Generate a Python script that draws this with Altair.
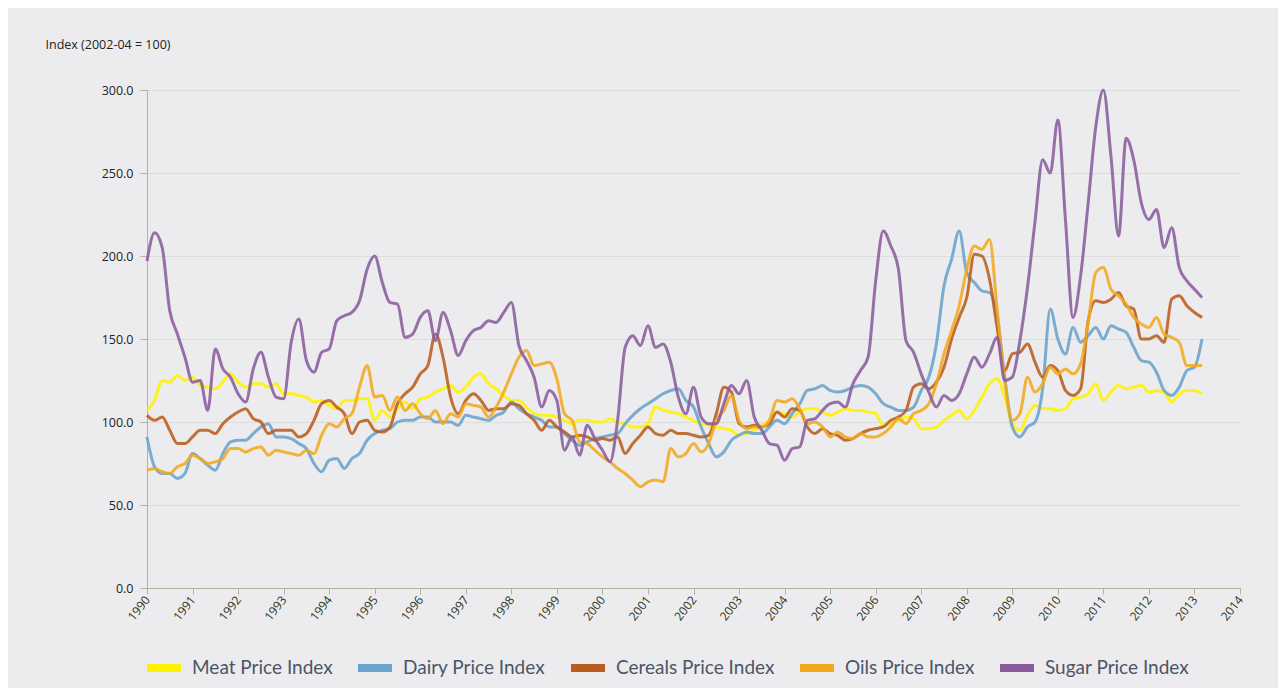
import altair as alt
import pandas as pd

series_names = ["Meat Price Index", "Dairy Price Index", "Cereals Price Index",
                "Oils Price Index", "Sugar Price Index"]
series_colors = ["#FFF200", "#6AA3CC", "#B95D1E", "#F2A81E", "#8A5C9E"]

# months since Jan 1990, every second month, up to Mar 2013
months = list(range(0, 279, 2))

meat = [107, 113, 125, 124, 128, 125, 127, 122, 121, 120, 124, 129,
        124, 121, 123, 123, 121, 123, 117, 117, 116, 115, 112, 113,
        110, 108, 113, 113, 114, 114, 101, 107, 103, 108, 112, 108,
        114, 115, 118, 120, 122, 118, 121, 127, 129, 123, 120, 116,
        113, 113, 109, 105, 104, 104, 103, 101, 99, 101, 101, 100,
        100, 102, 100, 99, 97, 97, 99, 109, 107, 106, 105, 103,
        101, 99, 98, 97, 96, 95, 92, 93, 95, 98, 101, 106,
        105, 103, 106, 108, 108, 106, 104, 106, 108, 107, 107, 106,
        105, 98, 99, 101, 103, 102, 96, 96, 97, 101, 104, 107,
        102, 107, 115, 123, 126, 115, 99, 95, 104, 110, 108, 108,
        107, 108, 114, 115, 117, 123, 113, 118, 122, 120, 121, 122,
        118, 119, 118, 112, 117, 119, 119, 117]

dairy = [91, 73, 69, 69, 66, 69, 81, 78, 74, 71, 81, 88,
         89, 89, 93, 97, 99, 91, 91, 90, 87, 84, 75, 70,
         77, 78, 72, 78, 81, 89, 93, 95, 96, 100, 101, 101,
         103, 103, 100, 100, 100, 98, 104, 103, 102, 101, 104, 106,
         112, 108, 105, 103, 101, 97, 97, 93, 89, 86, 88, 90,
         91, 92, 93, 99, 104, 108, 111, 114, 117, 119, 120, 113,
         109, 97, 87, 79, 82, 89, 92, 94, 93, 93, 97, 101,
         99, 105, 111, 119, 120, 122, 119, 118, 119, 121, 122, 121,
         117, 111, 109, 107, 107, 109, 119, 127, 147, 182, 198, 215,
         190, 184, 179, 178, 164, 127, 97, 91, 97, 100, 120, 168,
         150, 141, 157, 148, 152, 157, 150, 158, 156, 154, 145, 137,
         136, 130, 119, 116, 121, 131, 133, 150]

cereals = [104, 101, 103, 95, 87, 87, 91, 95, 95, 93, 99, 103,
           106, 108, 102, 100, 93, 95, 95, 95, 91, 93, 101, 111,
           113, 109, 105, 93, 100, 101, 95, 94, 97, 111, 117, 121,
           129, 134, 153, 139, 115, 105, 113, 117, 113, 107, 108, 108,
           111, 110, 105, 101, 95, 101, 97, 94, 91, 92, 91, 89,
           90, 89, 91, 81, 87, 92, 97, 93, 92, 95, 93, 93,
           92, 91, 92, 105, 121, 118, 99, 97, 98, 97, 99, 106,
           103, 108, 107, 97, 93, 96, 93, 92, 89, 90, 93, 95,
           96, 97, 101, 103, 107, 121, 123, 120, 124, 133, 150, 163,
           175, 201, 200, 186, 157, 131, 141, 142, 147, 136, 127, 134,
           131, 119, 116, 120, 161, 173, 172, 174, 178, 170, 168, 150,
           150, 152, 148, 174, 176, 170, 166, 163]

oils = [71, 72, 70, 69, 73, 75, 80, 78, 75, 76, 78, 84,
        84, 82, 84, 85, 80, 83, 82, 81, 80, 83, 81, 92,
        99, 97, 102, 105, 121, 134, 115, 116, 107, 115, 107, 111,
        105, 102, 107, 99, 105, 103, 111, 110, 109, 103, 109, 118,
        129, 139, 143, 134, 135, 136, 126, 105, 101, 88, 87, 83,
        79, 76, 72, 69, 65, 61, 64, 65, 64, 84, 79, 81,
        87, 82, 87, 101, 107, 116, 101, 96, 97, 97, 101, 113,
        112, 114, 108, 99, 100, 97, 91, 94, 91, 90, 93, 91,
        91, 93, 97, 102, 99, 105, 107, 111, 123, 141, 155, 170,
        192, 206, 204, 210, 168, 125, 101, 105, 127, 118, 123, 133,
        129, 132, 129, 135, 160, 190, 193, 180, 176, 171, 163, 159,
        157, 163, 153, 151, 148, 134, 134, 134]

sugar = [197, 214, 205, 167, 153, 139, 124, 125, 107, 144, 132, 127,
         117, 112, 132, 142, 127, 115, 114, 148, 162, 137, 130, 142,
         144, 161, 164, 166, 173, 192, 200, 184, 172, 171, 151, 153,
         163, 167, 149, 166, 155, 140, 149, 155, 157, 161, 160, 166,
         172, 146, 137, 127, 109, 119, 113, 83, 91, 80, 98, 90,
         83, 76, 101, 145, 152, 146, 158, 145, 147, 136, 115, 105,
         121, 103, 99, 99, 111, 122, 117, 125, 103, 95, 87, 86,
         77, 84, 85, 101, 102, 107, 111, 112, 109, 123, 131, 139,
         185, 215, 206, 192, 149, 142, 129, 118, 109, 116, 113, 117,
         129, 139, 133, 141, 151, 125, 127, 149, 181, 221, 258, 250,
         282, 222, 163, 188, 232, 278, 300, 260, 212, 271, 258, 232,
         222, 228, 205, 217, 193, 185, 180, 175]

year_ticks = list(range(1990, 2015))
value_ticks = [0, 50, 100, 150, 200, 250, 300]

rows = []
for order, (name, vals) in enumerate(zip(series_names, [meat, dairy, cereals, oils, sugar])):
    assert len(vals) == len(months), (name, len(vals))
    for m, v in zip(months, vals):
        rows.append({"year": 1990 + m / 12.0, "value": v, "series": name, "k": order})
df = pd.DataFrame(rows)

axis_color = "#B3B39E"

chart = alt.Chart(df).mark_line(
    strokeWidth=3, interpolate="monotone", opacity=0.88
).encode(
    x=alt.X("year:Q",
            scale=alt.Scale(domain=[1990, 2014], nice=False, zero=False),
            axis=alt.Axis(values=year_ticks, format="d", labelAngle=-52,
                          title=None, grid=False, tickSize=6, labelPadding=3,
                          labelFont="Open Sans", labelFontSize=12,
                          labelColor="#2E3320", domainColor=axis_color,
                          tickColor=axis_color, labelOverlap=False)),
    y=alt.Y("value:Q",
            scale=alt.Scale(domain=[0, 300], nice=False),
            axis=alt.Axis(values=value_ticks, format=".1f",
                          title="Index (2002-04 = 100)", titleAngle=0,
                          titleAlign="left", titleBaseline="middle",
                          titleX=-102, titleY=-46,
                          titleFont="Open Sans", titleFontSize=12.5,
                          titleFontWeight="normal", titleColor="#222222",
                          grid=True, gridColor="#DCDCDC", tickSize=7,
                          labelPadding=7, labelFont="Open Sans",
                          labelFontSize=12.5, labelColor="#222222",
                          domainColor=axis_color, tickColor=axis_color)),
    color=alt.Color("series:N",
                    scale=alt.Scale(domain=series_names, range=series_colors),
                    sort=series_names,
                    legend=alt.Legend(title=None, orient="none", legendX=-4,
                                      legendY=557, direction="horizontal",
                                      columns=5, symbolType="stroke",
                                      symbolSize=1156, symbolStrokeWidth=8,
                                      symbolOpacity=1,
                                      labelFont="Lato", labelFontSize=19,
                                      labelColor="#4B5568", labelOffset=7,
                                      columnPadding=9, labelLimit=400)),
    detail="k:N",
).properties(
    width=1093,
    height=498,
    background="#ECECEE",
    padding={"left": 139, "top": 82, "right": 38, "bottom": 100},
    autosize=alt.AutoSizeParams(type="none"),
).configure_view(strokeWidth=0)

chart.save("out.html", embed_options={"renderer": "svg", "actions": False})
